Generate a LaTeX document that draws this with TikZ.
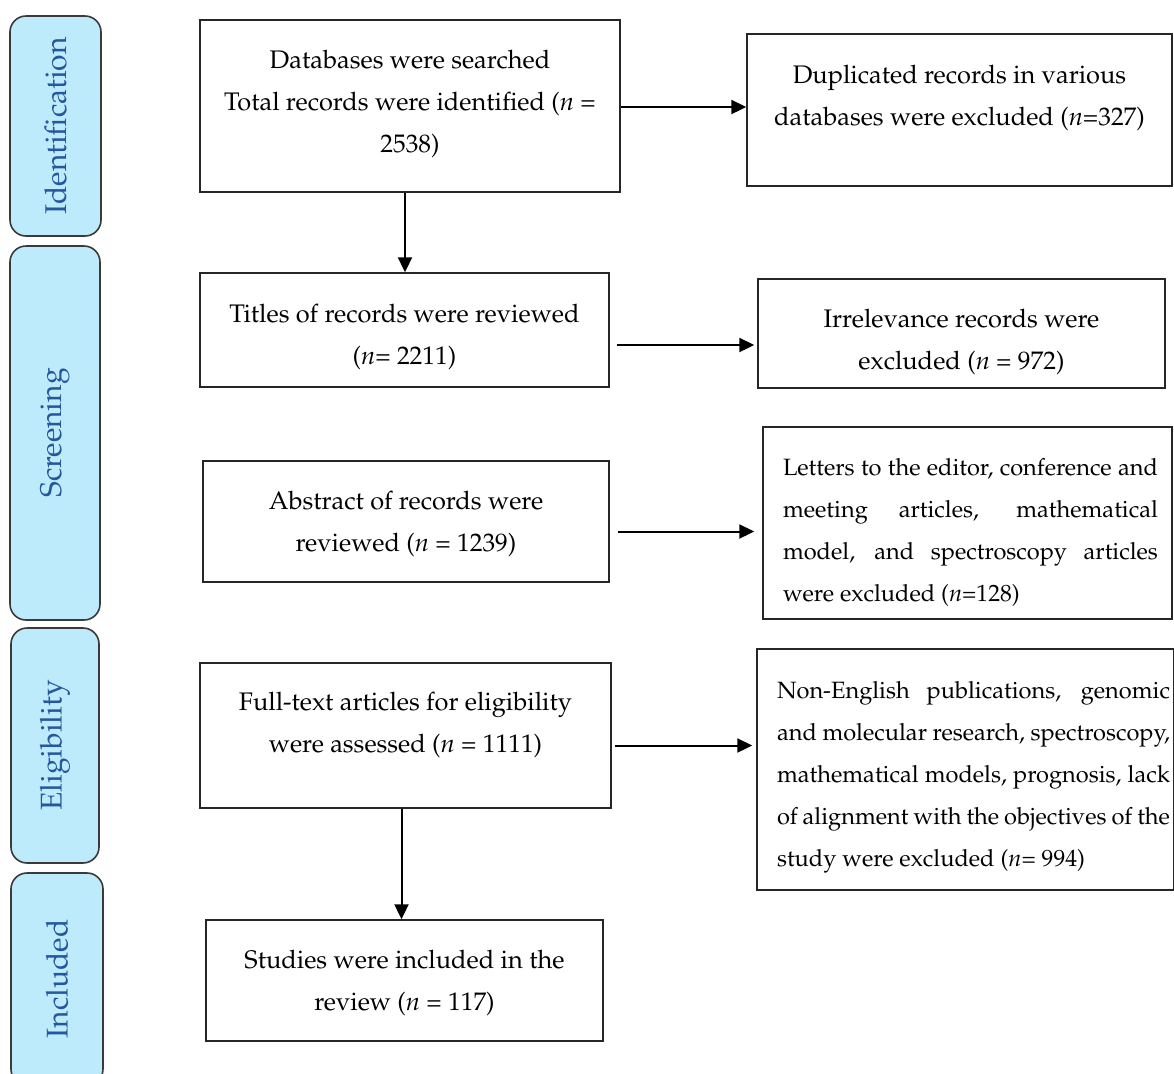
\documentclass[tikz,border=0pt]{standalone}
\usepackage[T1]{fontenc}
\usepackage{mathpazo}
\usetikzlibrary{arrows.meta,calc}
\definecolor{labfill}{HTML}{BDEBFC}
\definecolor{labtext}{HTML}{24579C}
\definecolor{labdraw}{HTML}{3A3A3A}
% raise, width, text (centred)
\newcommand\ctrtext[3]{\raisebox{#1}[0pt][0pt]{\parbox[t]{#2}{\centering #3}}}
% raise, width, left kern, lines (justified, one \jline per line)
\newcommand\justtext[4]{\raisebox{#1}[0pt][0pt]{\hspace*{#3}\parbox[t]{#2}{\fontsize{11.8}{21}\selectfont #4}}}
\newcommand\jline[1]{\hbox to \hsize{#1}}
\tikzset{
  box/.style={draw=black!85, line width=0.7pt, font=\fontsize{12.7}{21}\selectfont, inner sep=0pt},
  phase/.style={draw=labdraw, fill=labfill, line width=0.8pt, rounded corners=8pt, rotate=90,
     text=labtext, font=\fontsize{15}{18}\selectfont, inner sep=0pt},
  arr/.style={line width=1pt, -{Triangle[length=7.5pt,width=7pt]}}
}
\begin{document}
\begin{tikzpicture}[x=0.5pt,y=-0.5pt]
\useasboundingbox (0,0) rectangle (1174,1073);
% phase labels
\node[phase, minimum width=110pt, minimum height=45.5pt] (pid) at (55.5,126) {Identification};
\node[phase, minimum width=187pt, minimum height=45pt] (pscr) at (55,433) {Screening};
\node[phase, minimum width=117.5pt, minimum height=44pt] (pel) at (55,745.5) {Eligibility};
\node[phase, minimum width=106pt, minimum height=46pt] (pin) at (57,979) {Included};
% main boxes
\node[box, minimum width=210pt, minimum height=86pt] (b1) at (410,106)
  {\ctrtext{19pt}{200pt}{Databases were searched\\Total records were identified (\textit{n} =\\2538)}};
\node[box, minimum width=212.5pt, minimum height=76pt] (r1) at (959.5,110)
  {\ctrtext{13.5pt}{205pt}{Duplicated records in various\\databases were excluded (\textit{n}=327)}};
\node[box, minimum width=204.5pt, minimum height=57pt] (b2) at (404.5,330)
  {\ctrtext{4pt}{198pt}{Titles of records were reviewed\\(\textit{n}= 2211)}};
\node[box, minimum width=203.5pt, minimum height=54.5pt] (r2) at (961.5,333.5)
  {\ctrtext{3.25pt}{198pt}{Irrelevance records were\\excluded (\textit{n} = 972)}};
\node[box, minimum width=203pt, minimum height=60.5pt] (b3) at (406,521.5)
  {\ctrtext{6.25pt}{198pt}{Abstract of records were\\reviewed (\textit{n} = 1239)}};
\node[box, minimum width=204.5pt, minimum height=96pt] (r3) at (967.5,523)
  {\justtext{24pt}{187.5pt}{3pt}{%
    \jline{Letters to the editor, conference and}
    \jline{meeting articles, mathematical}
    \jline{model, and spectroscopy articles}
    \hbox{were excluded (\textit{n}=128)}}};
\node[box, minimum width=205.5pt, minimum height=72.5pt] (b4) at (405.5,735.5)
  {\ctrtext{12.75pt}{198pt}{Full-text articles for eligibility\\were assessed (\textit{n} = 1111)}};
\node[box, minimum width=208.5pt, minimum height=120.5pt] (r4) at (965.5,769.5)
  {\justtext{35.75pt}{196.5pt}{8pt}{%
    \jline{Non-English publications, genomic}
    \jline{and molecular research, spectroscopy,}
    \jline{mathematical models, prognosis, lack}
    \jline{of alignment with the objectives of the}
    \hbox{study were excluded (\textit{n}= 994)}}};
\node[box, minimum width=198.5pt, minimum height=60.5pt] (b5) at (404.5,980.5)
  {\ctrtext{6.25pt}{194pt}{Studies were included in the\\review (\textit{n} = 117)}};
% connectors
\draw[arr] ([yshift=-0.5pt]b1.east) -- ([yshift=-0.5pt]b1.east -| r1.west);
\draw[arr] ([xshift=-2.5pt]b1.south) -- ([xshift=-2.5pt]b1.south |- b2.north);
\draw[arr] ([xshift=3.5pt,yshift=-7.5pt]b2.east) -- ([xshift=-1.5pt,yshift=-7.5pt]b2.east -| r2.west);
\draw[arr] ([xshift=4pt,yshift=-5pt]b3.east) -- ([xshift=-4pt,yshift=-5pt]b3.east -| r3.west);
\draw[arr] ([xshift=1.5pt,yshift=-5pt]b4.east) -- ([xshift=-2pt,yshift=-5pt]b4.east -| r4.west);
\draw[arr] ([xshift=-2pt]b4.south) -- ([xshift=-2pt]b4.south |- b5.north);
\end{tikzpicture}
\end{document}
